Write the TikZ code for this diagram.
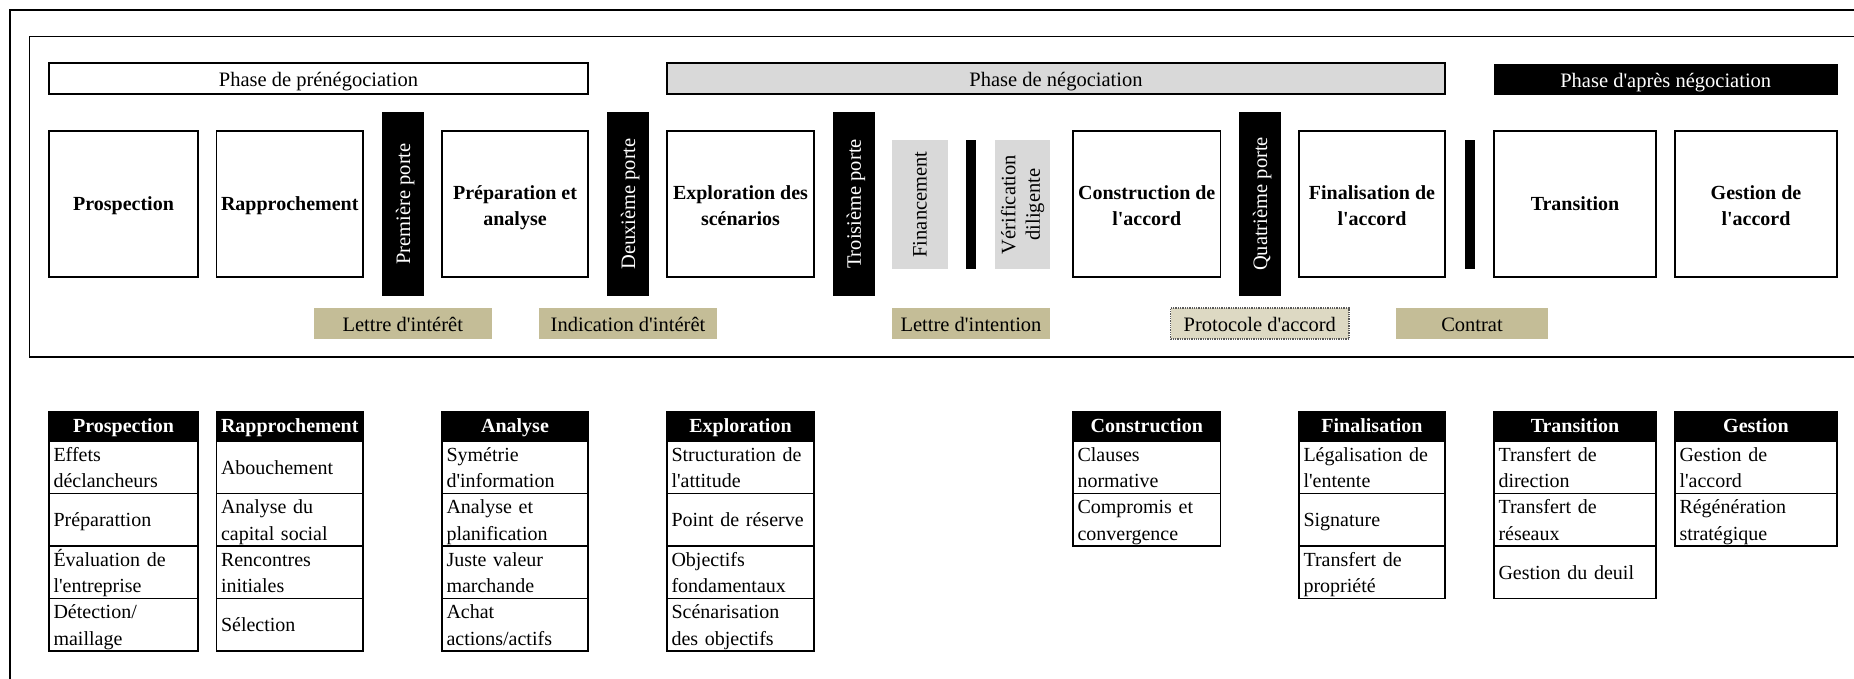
\documentclass[tikz,border=0pt]{standalone}
\usepackage{fontspec}
\setmainfont{Liberation Serif}[Ligatures=TeXOff]
\definecolor{tanc}{HTML}{C4BD97}
\definecolor{tanl}{HTML}{DDD9C3}
\definecolor{grayl}{HTML}{D9D9D9}
\tikzset{
  base/.style={inner sep=0pt, outer sep=0pt, font=\fontsize{20.5}{27}\selectfont},
  one/.style={text height=14pt, text depth=0pt},
  stage/.style={base, draw, line width=1.5pt, fill=white, align=center, minimum height=146pt, font=\fontsize{20}{26.7}\selectfont\bfseries, text height=13.4pt, text depth=0pt},
  stagetwo/.style={stage, text height=43.4pt, text depth=0pt},
  gate/.style={base, one, fill=black, text=white, rotate=90, minimum width=184pt, minimum height=42pt},
  greybar/.style={base, fill=grayl, rotate=90, minimum width=129pt, align=center, font=\fontsize{20.5}{24.5}\selectfont},
  thinbar/.style={base, fill=black, minimum height=129pt},
  phase/.style={base, text height=15pt, text depth=0pt, draw, line width=1.5pt, minimum height=31pt},
  doc/.style={base, text height=15pt, text depth=0pt, fill=tanc, minimum height=31pt},
  hdr/.style={base, fill=black, draw=black, line width=1.5pt, text=white, minimum height=29pt, text height=15pt, text depth=2.5pt, font=\fontsize{20}{24}\selectfont\bfseries},
  cell/.style={base, draw, line width=1.5pt, fill=white, align=left, minimum height=52.5pt, font=\fontsize{20}{26.5}\selectfont, text height=14pt, text depth=0pt},
  celltwo/.style={cell, text height=14pt, text depth=25.6pt},
}
\begin{document}
\begin{tikzpicture}[x=1pt,y=-1pt]
\path[use as bounding box, fill=white] (0,0) rectangle (1854,678);
\clip (0,0) rectangle (1854,678);
% frames
\draw[line width=1.6pt] (10,10) rectangle (1900,720);
\draw[line width=1.8pt] (29.5,36.5) rectangle (1900,357);
% phases
\node[phase, fill=white, minimum width=539pt] (ph1) at (318.5,78.5) {Phase de prénégociation};
\node[phase, fill=grayl, minimum width=778pt] (ph2) at (1056,78.5) {Phase de négociation};
\node[base, text height=15pt, text depth=0pt, fill=black, text=white, minimum width=343.5pt, minimum height=31pt] (ph3) at (1665.75,79.5) {Phase d'après négociation};
% stages
\node[stage, minimum width=149pt] (s1) at (123.5,204) {Prospection};
\node[stage, minimum width=146.5pt] (s2) at (289.75,204) {Rapprochement};
\node[stagetwo, minimum width=146pt] (s3) at (515,204) {Préparation et\\analyse};
\node[stagetwo, minimum width=147pt] (s4) at (740.5,204) {Exploration des\\scénarios};
\node[stagetwo, minimum width=147.5pt] (s5) at (1146.75,204) {Construction de\\l'accord};
\node[stagetwo, minimum width=146pt] (s6) at (1372,204) {Finalisation de\\l'accord};
\node[stage, minimum width=162pt] (s7) at (1575,204) {Transition};
\node[stagetwo, minimum width=162pt] (s8) at (1756,204) {Gestion de\\l'accord};
% gates
\node[gate] (g1) at (403,204) {Première porte};
\node[gate] (g2) at (628,204) {Deuxième porte};
\node[gate] (g3) at (853.75,204) {Troisième porte};
\node[gate] (g4) at (1260,204) {Quatrième porte};
% financing / due diligence
\node[greybar, minimum height=56pt] (fin) at (920,204.5) {Financement};
\node[thinbar, minimum width=10pt] (tb1) at (971,204.5) {};
\node[greybar, minimum height=55pt] (ver) at (1022.5,204.5) {Vérification\\diligente};
\node[thinbar, minimum width=10.5pt] (tb2) at (1469.8,204.5) {};
% documents
\node[doc, minimum width=177.5pt] (d1) at (402.75,323.5) {Lettre d'intérêt};
\node[doc, minimum width=178pt] (d2) at (628,323.5) {Indication d'intérêt};
\node[doc, minimum width=158pt] (d3) at (971,323.5) {Lettre d'intention};
\node[doc, fill=tanl, draw=gray!70!black, densely dotted, line width=1.3pt, minimum width=178.5pt] (d4) at (1259.75,323.5) {Protocole d'accord};
\node[doc, minimum width=152pt] (d5) at (1472,323.5) {Contrat};
% tables
% col 1
\node[hdr, minimum width=149pt] (t1h) at (123.5,426.5) {Prospection};
\node[celltwo, minimum width=149pt, text width=140pt] (t1a) at (123.5,467.25) {Effets\\déclancheurs};
\node[cell, minimum width=149pt, text width=140pt] (t1b) at (123.5,519.75) {Préparattion};
\node[celltwo, minimum width=149pt, text width=140pt] (t1c) at (123.5,572.25) {Évaluation de\\l'entreprise};
\node[celltwo, minimum width=149pt, text width=140pt] (t1d) at (123.5,624.75) {Détection/\\maillage};
% col 2
\node[hdr, minimum width=146.5pt] (t2h) at (289.75,426.5) {Rapprochement};
\node[cell, minimum width=146.5pt, text width=137.5pt] (t2a) at (289.75,467.25) {Abouchement};
\node[celltwo, minimum width=146.5pt, text width=137.5pt] (t2b) at (289.75,519.75) {Analyse du\\capital social};
\node[celltwo, minimum width=146.5pt, text width=137.5pt] (t2c) at (289.75,572.25) {Rencontres\\initiales};
\node[cell, minimum width=146.5pt, text width=137.5pt] (t2d) at (289.75,624.75) {Sélection};
% col 3
\node[hdr, minimum width=146pt] (t3h) at (515,426.5) {Analyse};
\node[celltwo, minimum width=146pt, text width=137pt] (t3a) at (515,467.25) {Symétrie\\d'information};
\node[celltwo, minimum width=146pt, text width=137pt] (t3b) at (515,519.75) {Analyse et\\planification};
\node[celltwo, minimum width=146pt, text width=137pt] (t3c) at (515,572.25) {Juste valeur\\marchande};
\node[celltwo, minimum width=146pt, text width=137pt] (t3d) at (515,624.75) {Achat\\actions/actifs};
% col 4
\node[hdr, minimum width=147pt] (t4h) at (740.5,426.5) {Exploration};
\node[celltwo, minimum width=147pt, text width=138pt] (t4a) at (740.5,467.25) {Structuration de\\l'attitude};
\node[cell, minimum width=147pt, text width=138pt] (t4b) at (740.5,519.75) {Point de réserve};
\node[celltwo, minimum width=147pt, text width=138pt] (t4c) at (740.5,572.25) {Objectifs\\fondamentaux};
\node[celltwo, minimum width=147pt, text width=138pt] (t4d) at (740.5,624.75) {Scénarisation\\des objectifs};
% col 5
\node[hdr, minimum width=147.5pt] (t5h) at (1146.75,426.5) {Construction};
\node[celltwo, minimum width=147.5pt, text width=138.5pt] (t5a) at (1146.75,467.25) {Clauses\\normative};
\node[celltwo, minimum width=147.5pt, text width=138.5pt] (t5b) at (1146.75,519.75) {Compromis et\\convergence};
% col 6
\node[hdr, minimum width=146pt] (t6h) at (1372,426.5) {Finalisation};
\node[celltwo, minimum width=146pt, text width=137pt] (t6a) at (1372,467.25) {Légalisation de\\l'entente};
\node[cell, minimum width=146pt, text width=137pt] (t6b) at (1372,519.75) {Signature};
\node[celltwo, minimum width=146pt, text width=137pt] (t6c) at (1372,572.25) {Transfert de\\propriété};
% col 7
\node[hdr, minimum width=162pt] (t7h) at (1575,426.5) {Transition};
\node[celltwo, minimum width=162pt, text width=153pt] (t7a) at (1575,467.25) {Transfert de\\direction};
\node[celltwo, minimum width=162pt, text width=153pt] (t7b) at (1575,519.75) {Transfert de\\réseaux};
\node[cell, minimum width=162pt, text width=153pt] (t7c) at (1575,572.25) {Gestion du deuil};
% col 8
\node[hdr, minimum width=162pt] (t8h) at (1756,426.5) {Gestion};
\node[celltwo, minimum width=162pt, text width=153pt] (t8a) at (1756,467.25) {Gestion de\\l'accord};
\node[celltwo, minimum width=162pt, text width=153pt] (t8b) at (1756,519.75) {Régénération\\stratégique};
\end{tikzpicture}
\end{document}
